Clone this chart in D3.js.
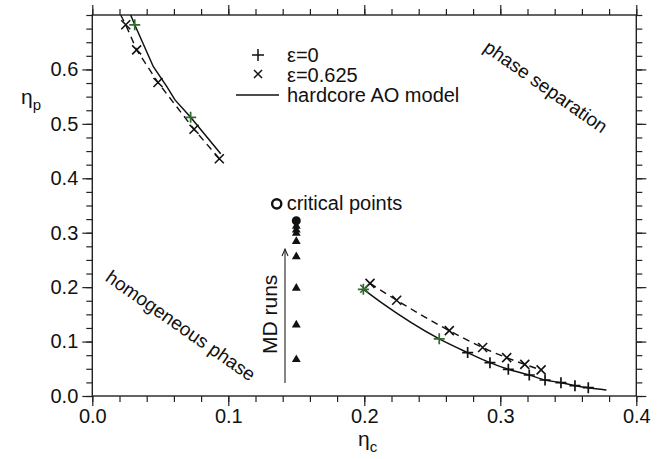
<!DOCTYPE html>
<html>
<head>
<meta charset="utf-8">
<script src="https://cdn.jsdelivr.net/npm/d3@7"></script>
<style>
  html, body { margin: 0; padding: 0; background: #fff; }
  svg text { font-family: "Liberation Sans", Arial, sans-serif; fill: #111; }
</style>
</head>
<body>
<svg id="chart" width="669" height="459"></svg>
<script>
// Phase diagram in the (eta_c, eta_p) plane

// hardcore AO model binodal, low-eta_c branch
const aoLeft = [
  [0.0282, 0.700], [0.0312, 0.682], [0.0449, 0.605], [0.0547, 0.569],
  [0.0608, 0.544], [0.0723, 0.512], [0.0944, 0.445]
];
// hardcore AO model binodal, high-eta_c branch
const aoRight = [
  [0.1993, 0.196], [0.2118, 0.173], [0.2551, 0.105], [0.2760, 0.0797],
  [0.2924, 0.0613], [0.3059, 0.049], [0.3213, 0.0386], [0.3329, 0.0294],
  [0.3446, 0.0245], [0.3549, 0.019], [0.3647, 0.0153], [0.378, 0.011]
];
// points marked along the AO model branch
const aoMarks = [
  [0.2760, 0.0797], [0.2924, 0.0613], [0.3059, 0.049], [0.3213, 0.0386],
  [0.3329, 0.0294], [0.3446, 0.0245], [0.3549, 0.019], [0.3647, 0.0153]
];
// simulation, epsilon = 0
const epsZero = [
  [0.0312, 0.682], [0.0723, 0.512], [0.1993, 0.196], [0.2551, 0.105]
];
// simulation, epsilon = 0.625 (dashed guide through the points)
const epsHighLeft = [
  [0.0209, 0.700], [0.0246, 0.682], [0.0326, 0.636], [0.0483, 0.576],
  [0.0748, 0.490], [0.0934, 0.436]
];
const epsHighRight = [
  [0.2000, 0.197], [0.2042, 0.207], [0.2238, 0.176], [0.2625, 0.120],
  [0.2870, 0.089], [0.3047, 0.0704], [0.3180, 0.058], [0.3300, 0.048]
];
// molecular dynamics runs at fixed eta_c
const mdRuns = [
  [0.15, 0.067], [0.15, 0.1305], [0.15, 0.198], [0.15, 0.256],
  [0.15, 0.284], [0.15, 0.299], [0.15, 0.305], [0.15, 0.312]
];
const criticalPoint = [0.15, 0.322];
const criticalLegend = [0.1356, 0.353];
const mdArrow = { x: 0.1417, y0: 0.024, y1: 0.270 };

const xTicks = [0.0, 0.1, 0.2, 0.3, 0.4];
const yTicks = [0.0, 0.1, 0.2, 0.3, 0.4, 0.5, 0.6];

const green = "#2f6a2f";

const svg = d3.select("#chart");
const x = d3.scaleLinear().domain([0, 0.4]).range([92.3, 636.3]);
const y = d3.scaleLinear().domain([0, 0.7]).range([396, 15]);

const xMinor = d3.range(0, 0.4001, 0.02);
const yMinor = d3.range(0, 0.7001, 0.025);

// frame
svg.append("rect")
  .attr("x", x(0)).attr("y", y(0.7))
  .attr("width", x(0.4) - x(0)).attr("height", y(0) - y(0.7))
  .attr("fill", "none").attr("stroke", "#222").attr("stroke-width", 1.4);

function styleAxis(g) {
  g.select(".domain").remove();
  g.selectAll(".tick line").attr("stroke", "#222").attr("stroke-width", 1.2);
  g.selectAll(".tick text")
    .style("font-family", "'Liberation Sans', Arial, sans-serif")
    .style("font-size", "20px").attr("fill", "#111");
}

// minor ticks
svg.append("g").attr("transform", `translate(0,${y(0)})`)
  .call(d3.axisBottom(x).tickValues(xMinor).tickSize(6).tickFormat("")).call(styleAxis);
svg.append("g").attr("transform", `translate(0,${y(0.7)})`)
  .call(d3.axisTop(x).tickValues(xMinor).tickSize(6).tickFormat("")).call(styleAxis);
svg.append("g").attr("transform", `translate(${x(0)},0)`)
  .call(d3.axisLeft(y).tickValues(yMinor).tickSize(6).tickFormat("")).call(styleAxis);
svg.append("g").attr("transform", `translate(${x(0.4)},0)`)
  .call(d3.axisRight(y).tickValues(yMinor).tickSize(6).tickFormat("")).call(styleAxis);

// major ticks with labels
svg.append("g").attr("transform", `translate(0,${y(0)})`)
  .call(d3.axisBottom(x).tickValues(xTicks).tickSize(10).tickPadding(3).tickFormat(d3.format(".1f")))
  .call(styleAxis);
svg.append("g").attr("transform", `translate(0,${y(0.7)})`)
  .call(d3.axisTop(x).tickValues(xTicks).tickSize(10).tickFormat("")).call(styleAxis);
svg.append("g").attr("transform", `translate(${x(0)},0)`)
  .call(d3.axisLeft(y).tickValues(yTicks).tickSize(10).tickPadding(4).tickFormat(d3.format(".1f")))
  .call(styleAxis);
svg.append("g").attr("transform", `translate(${x(0.4)},0)`)
  .call(d3.axisRight(y).tickValues(yTicks).tickSize(10).tickFormat("")).call(styleAxis);

// axis titles
const xt = svg.append("text").attr("x", 358).attr("y", 446).style("font-size", "21px");
xt.append("tspan").text("η");
xt.append("tspan").attr("dy", 6).style("font-size", "15px").text("c");
const yt = svg.append("text").attr("x", 21).attr("y", 104).style("font-size", "21px");
yt.append("tspan").text("η");
yt.append("tspan").attr("dy", 6).style("font-size", "15px").text("p");

const line = d3.line().x(d => x(d[0])).y(d => y(d[1])).curve(d3.curveMonotoneX);
const lineY = d3.line().x(d => x(d[0])).y(d => y(d[1]));

// AO model curves
svg.append("path").datum(aoLeft).attr("d", lineY)
  .attr("fill", "none").attr("stroke", "#111").attr("stroke-width", 1.5);
svg.append("path").datum(aoRight).attr("d", line)
  .attr("fill", "none").attr("stroke", "#111").attr("stroke-width", 1.5);

// dashed guides for epsilon = 0.625
svg.append("path").datum(epsHighLeft).attr("d", lineY)
  .attr("fill", "none").attr("stroke", "#111").attr("stroke-width", 1.4)
  .attr("stroke-dasharray", "7,5");
svg.append("path").datum(epsHighRight.slice(1)).attr("d", line)
  .attr("fill", "none").attr("stroke", "#111").attr("stroke-width", 1.4)
  .attr("stroke-dasharray", "7,5");

function plus(g, pts, color, s) {
  g.selectAll(null).data(pts).join("path")
    .attr("d", d => {
      const cx = x(d[0]), cy = y(d[1]);
      return `M${cx - s},${cy}H${cx + s}M${cx},${cy - s}V${cy + s}`;
    })
    .attr("stroke", color).attr("stroke-width", 1.7).attr("fill", "none");
}
function cross(g, pts, color, s) {
  g.selectAll(null).data(pts).join("path")
    .attr("d", d => {
      const cx = x(d[0]), cy = y(d[1]);
      return `M${cx - s},${cy - s}L${cx + s},${cy + s}M${cx - s},${cy + s}L${cx + s},${cy - s}`;
    })
    .attr("stroke", color).attr("stroke-width", 1.6).attr("fill", "none");
}

cross(svg.append("g"), epsHighLeft.slice(1), "#111", 4.5);
cross(svg.append("g"), epsHighRight.slice(1), "#111", 4.5);
cross(svg.append("g"), epsHighRight.slice(0, 1), green, 4);
plus(svg.append("g"), aoMarks, "#111", 5.5);
plus(svg.append("g"), epsZero, green, 5.5);

// MD run markers
svg.append("g").selectAll("path").data(mdRuns).join("path")
  .attr("d", d3.symbol().type(d3.symbolTriangle).size(34))
  .attr("transform", d => `translate(${x(d[0])},${y(d[1])})`)
  .attr("fill", "#111");

// critical points
svg.append("circle").attr("cx", x(criticalPoint[0])).attr("cy", y(criticalPoint[1]))
  .attr("r", 4.5).attr("fill", "#111");
svg.append("circle").attr("cx", x(criticalLegend[0])).attr("cy", y(criticalLegend[1]))
  .attr("r", 4.6).attr("fill", "none").attr("stroke", "#111").attr("stroke-width", 2.4);
svg.append("text").attr("x", x(criticalLegend[0]) + 10).attr("y", y(criticalLegend[1]) + 6)
  .style("font-size", "20px").text("critical points");

// MD runs arrow
const ax = x(mdArrow.x);
svg.append("line").attr("x1", ax).attr("x2", ax)
  .attr("y1", y(mdArrow.y0)).attr("y2", y(mdArrow.y1))
  .attr("stroke", "#222").attr("stroke-width", 1.1);
svg.append("path")
  .attr("d", `M${ax - 3},${y(mdArrow.y1) + 7}L${ax},${y(mdArrow.y1)}L${ax + 3},${y(mdArrow.y1) + 7}`)
  .attr("fill", "none").attr("stroke", "#222").attr("stroke-width", 1.1);
svg.append("text")
  .attr("transform", `translate(${ax - 8},${y(0.150)}) rotate(-90)`)
  .attr("text-anchor", "middle").style("font-size", "21px").text("MD runs");

// legend
const lg = svg.append("g");
lg.append("path").attr("d", "M252,55H264M258,49V61")
  .attr("stroke", "#111").attr("stroke-width", 1.5);
lg.append("path").attr("d", "M254,70L262,78M254,78L262,70")
  .attr("stroke", "#111").attr("stroke-width", 1.5);
lg.append("line").attr("x1", 236).attr("x2", 279).attr("y1", 95).attr("y2", 95)
  .attr("stroke", "#111").attr("stroke-width", 1.6);
lg.append("text").attr("x", 287).attr("y", 62).style("font-size", "20px").text("ε=0");
lg.append("text").attr("x", 287).attr("y", 82).style("font-size", "20px").text("ε=0.625");
lg.append("text").attr("x", 287).attr("y", 102).style("font-size", "20px").text("hardcore AO model");

// region labels
svg.append("text")
  .attr("transform", "translate(542,92) rotate(35)")
  .attr("text-anchor", "middle").style("font-size", "19px").text("phase separation");
svg.append("text")
  .attr("transform", "translate(177,331) rotate(35)")
  .attr("text-anchor", "middle").style("font-size", "19px").text("homogeneous phase");
</script>
</body>
</html>
